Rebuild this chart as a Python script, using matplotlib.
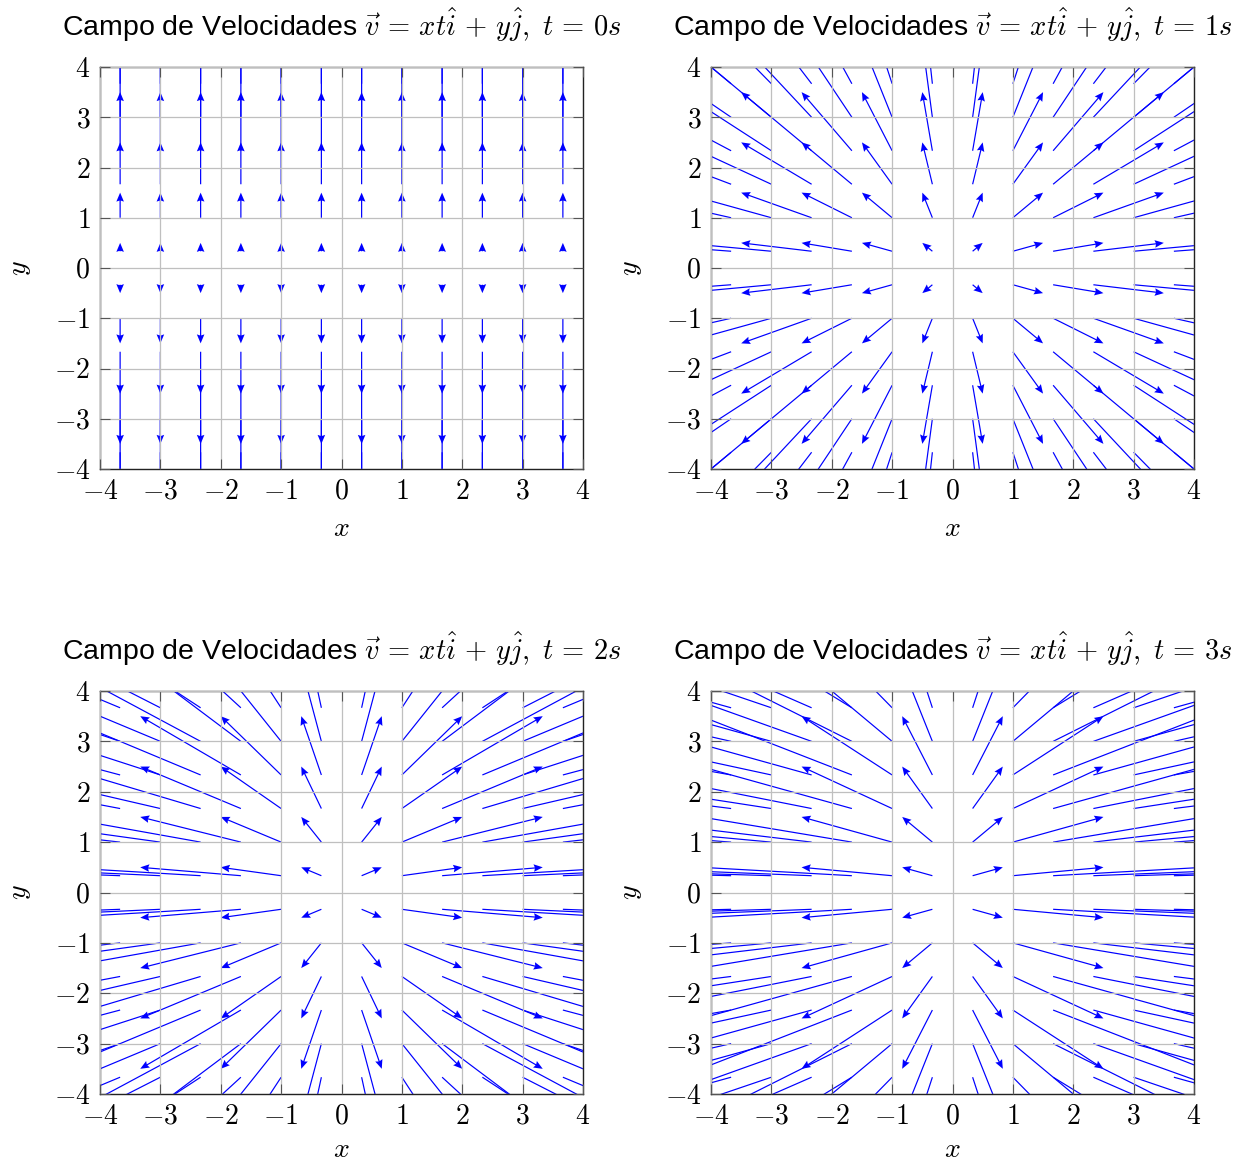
import numpy as np
import matplotlib
matplotlib.use("Agg")
import matplotlib.pyplot as plt

# ---- data ----
times = [0, 1, 2, 3]                      # t values of the four panels
grid_x = [-11/3, -3, -7/3, -5/3, -1, -1/3, 1/3, 1, 5/3, 7/3, 3, 11/3]
grid_y = [-11/3, -3, -7/3, -5/3, -1, -1/3, 1/3, 1, 5/3, 7/3, 3, 11/3]
arrow_scale = 0.5                          # arrow = 0.5 * (x t, y)
tick_vals = [-4, -3, -2, -1, 0, 1, 2, 3, 4]
tick_labels = ["$-4$", "$-3$", "$-2$", "$-1$", "$0$", "$1$", "$2$", "$3$", "$4$"]

plt.rcParams['mathtext.fontset'] = 'cm'
plt.rcParams['font.family'] = ['Liberation Sans', 'DejaVu Sans']

W, H = 1243, 1162
fig = plt.figure(figsize=(W / 100, H / 100), dpi=100)

boxes = [(100, 67, 483, 402), (711, 67, 483, 402),
         (100, 691, 483, 403), (711, 691, 483, 403)]
xlabel_pads = [8, 8, 5, 5]

X, Y = np.meshgrid(np.array(grid_x), np.array(grid_y))

for t, (l, tp, w, h), xlp in zip(times, boxes, xlabel_pads):
    ax = fig.add_axes([l / W, 1 - (tp + h) / H, w / W, h / H])
    U = X * t
    V = Y
    ax.quiver(X, Y, U, V, angles='xy', scale_units='xy', scale=1 / arrow_scale,
              units='dots', width=1.2, headwidth=6.3, headlength=7.5,
              headaxislength=6.6, minshaft=0, minlength=0,
              color='#0000ff', zorder=1)
    ax.set_xlim(-4, 4)
    ax.set_ylim(-4, 4)
    ax.set_xticks(tick_vals)
    ax.set_xticklabels(tick_labels)
    ax.set_yticks(tick_vals)
    ax.set_yticklabels(tick_labels)
    ax.set_axisbelow(False)
    ax.grid(True, color='#bfbfbf', linewidth=0.9)
    ax.tick_params(direction='in', length=7, width=0.8, color='#555555',
                   top=True, right=True, labelsize=20, pad=7)
    for sp in ax.spines.values():
        sp.set_linewidth(1.0)
        sp.set_color('#222222')
    ax.set_xlabel("$x$", fontsize=20, labelpad=xlp)
    ax.set_ylabel("$y$", fontsize=20, labelpad=15)
    ax.set_title(r"Campo de Velocidades $\vec{v}\,=\,xt\hat{i}\,+\,y\hat{j},\ t\,=\,%ds$" % t,
                 fontsize=20.5, pad=22)

fig.savefig("out.png", dpi=100)
